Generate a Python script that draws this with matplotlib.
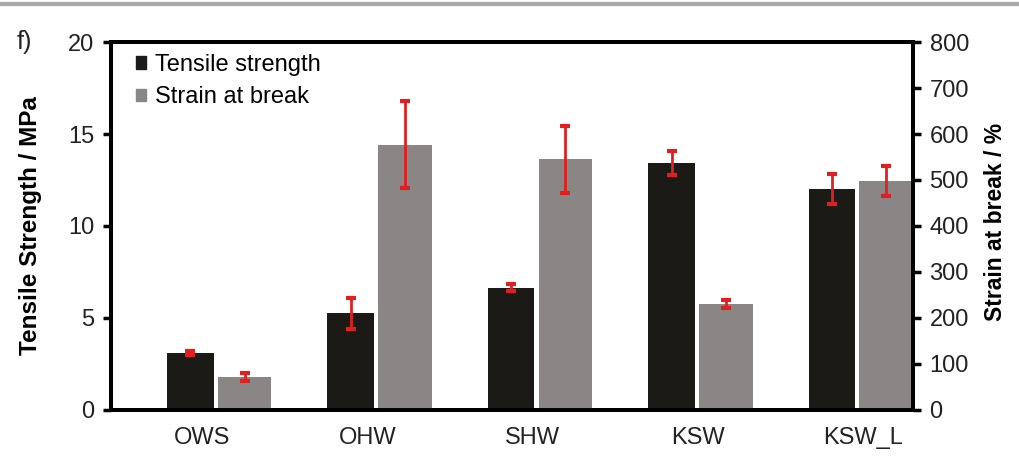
import matplotlib
matplotlib.use('Agg')
import matplotlib.pyplot as plt
from matplotlib.patches import Patch
from matplotlib.lines import Line2D
import numpy as np

plt.rcParams['font.family'] = ['Liberation Sans', 'DejaVu Sans']

# data
samples = ['OWS', 'OHW', 'SHW', 'KSW', 'KSW_L']
tensile = [3.1, 5.25, 6.65, 13.4, 12.0]        # MPa
tensile_err = [0.12, 0.85, 0.18, 0.65, 0.8]
strain = [72, 577, 545, 230, 498]               # %
strain_err = [9, 95, 73, 9, 33]

black = '#1c1a17'
grey = '#8a8685'
red = '#e02020'

fig = plt.figure(figsize=(10.2, 4.72), dpi=100)
ax = fig.add_axes([0.1088, 0.1314, 0.7862, 0.7796])
ax2 = ax.twinx()

x = np.arange(len(samples))
eb = dict(ecolor=red, elinewidth=2, capsize=3.6, capthick=3)
ax.bar(x + 0.35, tensile, width=0.29, align='edge', color=black, zorder=2)
ax.errorbar(x + 0.35 + 0.145, tensile, yerr=tensile_err, fmt='none', zorder=3, **eb)
ax2.bar(x + 0.667, strain, width=0.333, align='edge', color=grey, zorder=2)
ax2.errorbar(x + 0.667 + 0.1665, strain, yerr=strain_err, fmt='none', zorder=3, **eb)

ax.set_xlim(0, len(samples))
ax.set_ylim(0, 20)
ax2.set_ylim(0, 800)
ax.set_yticks([0, 5, 10, 15, 20])
ax2.set_yticks(range(0, 801, 100))
ax.set_xticks(x * 1.03 + 0.57)
ax.set_xticklabels(samples)

for a in (ax, ax2):
    for s in a.spines.values():
        s.set_linewidth(2.8)
        s.set_color('black')
    a.tick_params(axis='y', direction='out', length=6, width=2.5, labelsize=17, pad=6,
                  colors='black', labelcolor='#222222')
ax.tick_params(axis='x', length=0, labelsize=17, pad=12, labelcolor='#222222')

ax.set_ylabel('Tensile Strength / MPa', fontsize=17.5, fontweight='bold')
ax.yaxis.set_label_coords(-0.086, 0.5)
ax2.set_ylabel('Strain at break / %', fontsize=16.5, fontweight='bold')
ax2.yaxis.set_label_coords(1.089, 0.51)

handles = [Patch(color=black), Patch(color=grey)]
ax.legend(handles, ['Tensile strength', 'Strain at break'], loc='upper left',
          bbox_to_anchor=(0.016, 1.0), borderaxespad=0.1, frameon=False, fontsize=17,
          handlelength=0.45, handleheight=0.45, handletextpad=0.35, labelspacing=0.45)

fig.text(0.016, 0.91, 'f)', fontsize=18, va='center', color='#222222')
fig.add_artist(Line2D([0, 1], [0.992, 0.992], transform=fig.transFigure, color='#a8a8a8', linewidth=3))

plt.savefig('out.png', dpi=100, facecolor='white')
plt.close()
